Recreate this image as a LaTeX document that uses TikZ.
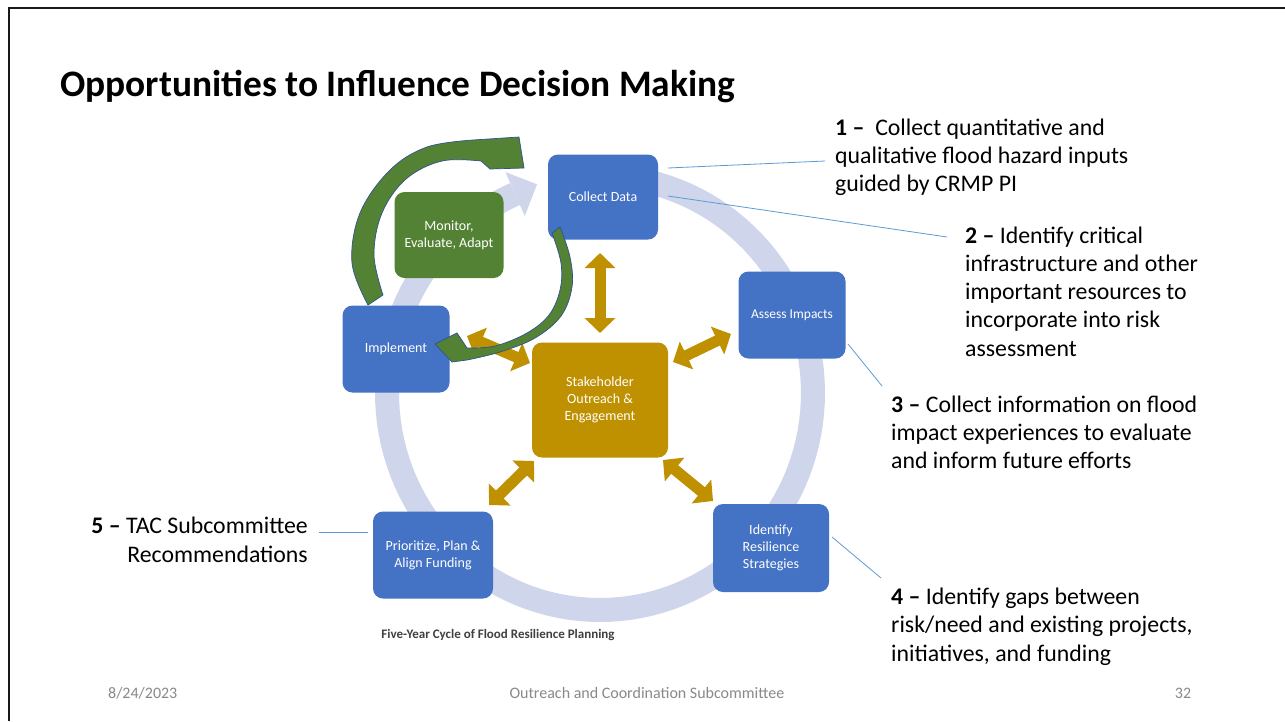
\documentclass[tikz,border=0pt]{standalone}
\usepackage{fontspec}
\setmainfont{Carlito}
\usetikzlibrary{arrows.meta,calc}
\definecolor{boxblue}{HTML}{4472C4}
\definecolor{boxgreen}{HTML}{548235}
\definecolor{boxgold}{HTML}{BF9000}
\definecolor{ringc}{HTML}{CFD5EA}
\definecolor{callblue}{HTML}{5B9BD5}
\definecolor{capgray}{HTML}{404040}
\definecolor{footgray}{HTML}{898989}
\definecolor{arrowline}{HTML}{2F528F}
\begin{document}
\begin{tikzpicture}[x=1pt,y=-1pt,
  cbox/.style={rounded corners=10pt, text=white, align=center, inner sep=0pt,
     font=\fontsize{14}{17}\selectfont},
  bluebox/.style={cbox, fill=boxblue},
  greenbox/.style={cbox, fill=boxgreen},
  goldbox/.style={cbox, fill=boxgold},
  goldarrow/.style={draw=boxgold, line width=11pt,
     {Triangle[length=15pt,width=30pt]}-{Triangle[length=15pt,width=30pt]}},
  greenarrow/.style={fill=boxgreen, draw=arrowline, line width=0.7pt, line join=round},
  callline/.style={draw=callblue, line width=0.8pt},
  calltext/.style={inner sep=0pt, font=\fontsize{23.8}{28.3}\selectfont},
  foot/.style={inner sep=0pt, text=footgray, font=\fontsize{16}{19}\selectfont}
]
\useasboundingbox (0,0) rectangle (1285,721);
\fill[white] (0,0) rectangle (1285,721);
% slide border
\draw[line width=2.8pt, color=black!90] (9,721) -- (9,8) -- (1285,8);

% title
\node[inner sep=0pt, anchor=base west, font=\fontsize{37.4}{45}\selectfont\bfseries] (title) at (60,96) {Opportunities to Influence Decision Making};

% cycle ring
\draw[ringc, line width=24pt] plot[domain=-80:246.5, samples=120] ({600+213*cos(\x)},{393+217*sin(\x)});
\fill[ringc] (524.8,215.9) -- (537,184.3) -- (505.4,172.1) -- cycle;

% gold double arrows
\coordinate (g1a) at (600,253); \coordinate (g1b) at (600,333);
\coordinate (g2a) at (467,336); \coordinate (g2b) at (530,363);
\coordinate (g3a) at (673,362); \coordinate (g3b) at (731,334);
\coordinate (g4a) at (489,505); \coordinate (g4b) at (534,461);
\coordinate (g5a) at (663,460); \coordinate (g5b) at (713,501);
\draw[goldarrow] (g1a) -- (g1b);
\draw[goldarrow] (g2a) -- (g2b);
\draw[goldarrow] (g3a) -- (g3b);
\draw[goldarrow] (g4a) -- (g4b);
\draw[goldarrow] (g5a) -- (g5b);

% boxes
\node[bluebox, minimum width=110pt, minimum height=85pt] (collect) at (603,197) {Collect Data};
\node[bluebox, minimum width=107pt, minimum height=87pt, font=\fontsize{13.5}{16.5}\selectfont] (assess) at (792,315) {Assess Impacts};
\node[bluebox, minimum width=116pt, minimum height=88pt] (identify) at (771,548) {Identify\\Resilience\\Strategies};
\node[bluebox, minimum width=120pt, minimum height=87pt] (prioritize) at (433,555) {Prioritize, Plan \&\\Align Funding};
\node[bluebox, minimum width=107pt, minimum height=87pt] (implement) at (396,349) {Implement};
\node[greenbox, minimum width=109pt, minimum height=86pt] (monitor) at (449,235) {Monitor,\\Evaluate, Adapt};
\node[goldbox, minimum width=136pt, minimum height=115pt] (stake) at (600,400) {Stakeholder\\Outreach \&\\Engagement};

% green curved arrows
\filldraw[greenarrow] (368,305) -- plot[smooth, tension=0.6] coordinates {(368,305) (352,263) (360,213) (390,170) (427,147) (473,140)}
  -- (519,137) -- (524,168) -- (490,169) -- (481,161)
  -- plot[smooth, tension=0.6] coordinates {(481,161) (442,161) (406,179) (382,213) (374,255) (383,295)} -- cycle;
\filldraw[greenarrow] (560,227) -- plot[smooth, tension=0.6] coordinates {(560,227) (570,257) (572,287) (561,316) (535,338) (500,352) (467,360)}
  -- (452,362) -- (435,344) -- (457,333) -- (467,348)
  -- plot[smooth, tension=0.6] coordinates {(467,348) (495,346) (527,333) (549,315) (560,290) (561,263) (552,233)} -- cycle;

% caption
\node[inner sep=0pt, text=capgray, font=\fontsize{13}{15}\selectfont\bfseries] (caption) at (498,635) {Five-Year Cycle of Flood Resilience Planning};

% callout texts (base anchor = baseline of last line)
\node[calltext, anchor=base west, align=left] (t1) at (835,191.6) {\textbf{1 –}\ \ Collect quantitative and\\qualitative flood hazard inputs\\guided by CRMP PI};
\node[calltext, anchor=base west, align=left] (t2) at (965,356.2) {\textbf{2 –} Identify critical\\infrastructure and other\\important resources to\\incorporate into risk\\assessment};
\node[calltext, anchor=base west, align=left] (t3) at (891,468.6) {\textbf{3 –} Collect information on flood\\impact experiences to evaluate\\and inform future efforts};
\node[calltext, anchor=base west, align=left] (t4) at (891,661) {\textbf{4 –} Identify gaps between\\risk/need and existing projects,\\initiatives, and funding};
\node[calltext, anchor=base east, align=right] (t5) at (308,562) {\textbf{5 –} TAC Subcommittee\\Recommendations};

% callout lines
\coordinate (c1a) at (668,168); \coordinate (c1b) at (825,161);
\coordinate (c2a) at (668,196); \coordinate (c2b) at (947,237);
\coordinate (c3a) at (848,344); \coordinate (c3b) at (882,386);
\coordinate (c4a) at (832,537); \coordinate (c4b) at (881,578);
\coordinate (c5a) at (319,532); \coordinate (c5b) at (368,532);
\draw[callline] (c1a) -- (c1b);
\draw[callline] (c2a) -- (c2b);
\draw[callline] (c3a) -- (c3b);
\draw[callline] (c4a) -- (c4b);
\draw[callline] (c5a) -- (c5b);

% footer
\node[foot, anchor=west] (date) at (108,693) {8/24/2023};
\node[foot] (footc) at (647,693) {Outreach and Coordination Subcommittee};
\node[foot] (page) at (1183,693) {32};
\end{tikzpicture}
\end{document}
